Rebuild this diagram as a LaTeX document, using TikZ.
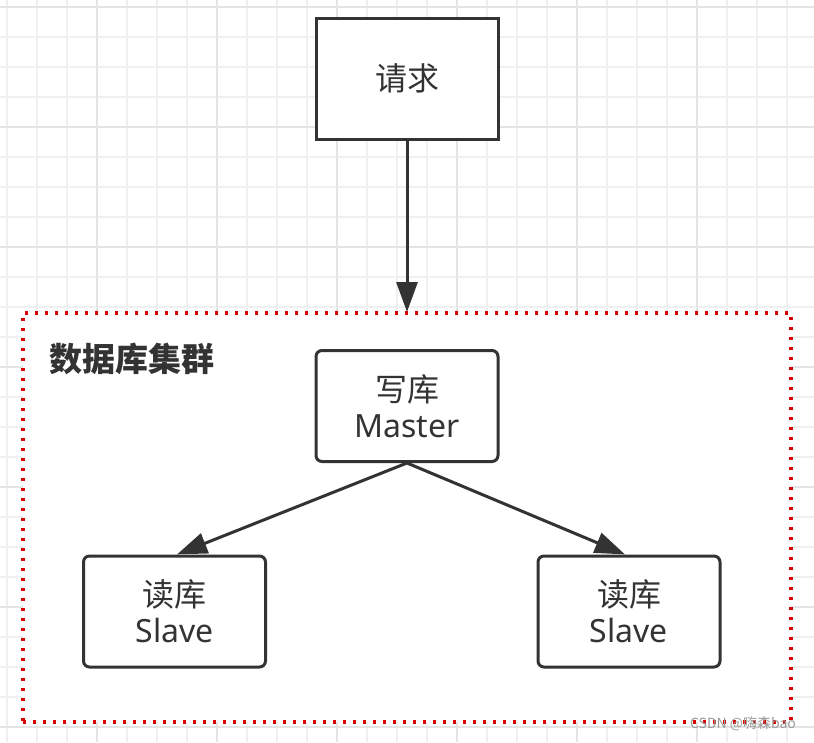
\documentclass[tikz,border=0pt]{standalone}
\usepackage{fontspec}
\setmainfont{Noto Sans CJK SC}
\newfontfamily\latinfont{Noto Sans}
\usetikzlibrary{arrows.meta}
\definecolor{boxline}{HTML}{333333}
\definecolor{gridminor}{HTML}{F0F0F0}
\definecolor{gridmajor}{HTML}{E4E4E4}
\definecolor{dotred}{HTML}{D90000}
\tikzset{
  sharpbox/.style={draw=boxline, line width=3pt, fill=white, minimum width=182pt, minimum height=121pt, inner sep=0pt, font=\fontsize{32}{42}\selectfont, text=boxline},
  roundbox/.style={draw=boxline, line width=3pt, fill=white, rounded corners=6pt, minimum width=182pt, minimum height=111pt, inner sep=0pt, align=center, font=\fontsize{32}{42}\selectfont, text=boxline},
  conn/.style={draw=boxline, line width=3pt, -{Triangle[length=30pt,width=21pt]}, shorten >=-1pt},
  cluster/.style={draw=dotred, line width=3.2pt, dash pattern=on 3.2pt off 6.8pt, fill=white},
}
\begin{document}
\begin{tikzpicture}[x=1pt,y=-1pt]
\useasboundingbox (0,0) rectangle (814,742);
\fill[white] (0,0) rectangle (814,742);
% grid
\foreach \i in {0,...,27} {
  \draw[gridminor, line width=1.5pt] (7+30*\i,0) -- (7+30*\i,742);
}
\foreach \j in {0,...,24} {
  \draw[gridminor, line width=1.5pt] (0,7+30*\j) -- (814,7+30*\j);
}
\foreach \i in {0,...,6} {
  \draw[gridmajor, line width=1.5pt] (97+120*\i,0) -- (97+120*\i,742);
}
\foreach \j in {0,...,6} {
  \draw[gridmajor, line width=1.5pt] (0,7+120*\j) -- (814,7+120*\j);
}
% cluster
\node[cluster, minimum width=768pt, minimum height=409pt, inner sep=0pt] (cl) at (407,517.5) {};
\node[font=\bfseries\fontsize{33}{36}\selectfont, text=boxline, anchor=west, inner sep=0pt] (cltitle) at (49,359) {数据库集群};
% nodes
\node[sharpbox] (req) at (407,78.5) {请求};
\node[roundbox] (master) at (407,406) {写库\\[-6pt]{\latinfont Master}};
\node[roundbox] (s1) at (174.5,611.5) {读库\\[-6pt]{\latinfont Slave}};
\node[roundbox] (s2) at (629,611.5) {读库\\[-6pt]{\latinfont Slave}};
% connectors
\coordinate (reqtip) at (407,311);
\draw[conn] (req.south) -- (reqtip);
\coordinate (s1tip) at (178,554);
\coordinate (s2tip) at (624,554);
\draw[conn] (master.south) -- (s1tip);
\draw[conn] (master.south) -- (s2tip);
% watermark
\node[font=\fontsize{14}{16}\selectfont, text=gray!80, inner sep=0pt] (wm) at (743,724) {CSDN @嗨森bao};
\end{tikzpicture}
\end{document}
